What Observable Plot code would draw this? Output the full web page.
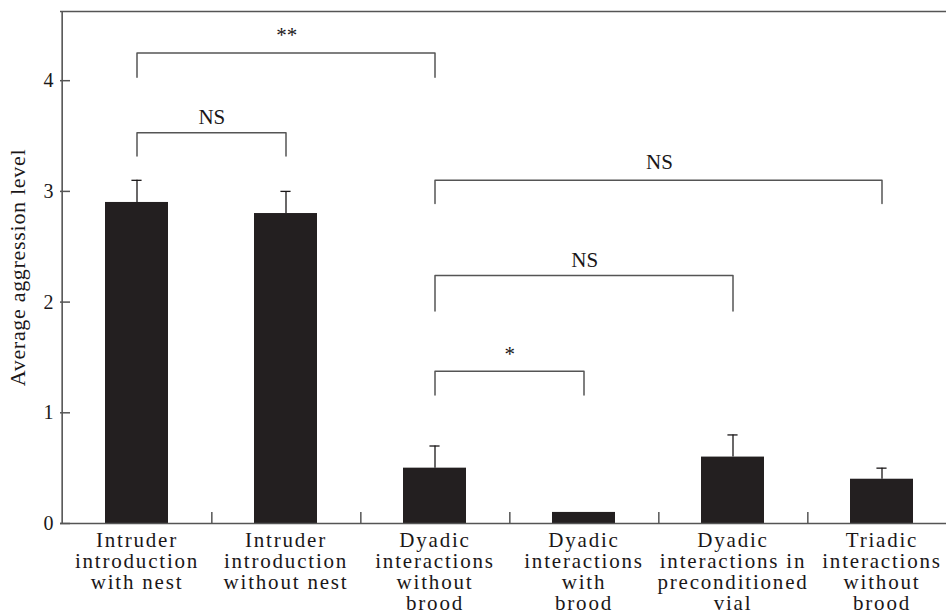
<!DOCTYPE html>
<html>
<head>
<meta charset="utf-8">
<script src="https://cdn.jsdelivr.net/npm/d3@7"></script>
<script src="https://cdn.jsdelivr.net/npm/@observablehq/plot@0.6"></script>
<style>
  body { margin: 0; background: #fff; }
  #chart svg { display: block; }
</style>
</head>
<body>
<div id="chart"></div>
<script>
// ---- data ----
const categories = [
  "Intruder\nintroduction\nwith nest",
  "Intruder\nintroduction\nwithout nest",
  "Dyadic\ninteractions\nwithout\nbrood",
  "Dyadic\ninteractions\nwith\nbrood",
  "Dyadic\ninteractions in\npreconditioned\nvial",
  "Triadic\ninteractions\nwithout\nbrood"
];
const means  = [2.9, 2.8, 0.5, 0.1, 0.6, 0.4];
const errors = [0.2, 0.2, 0.2, 0.0, 0.2, 0.1];
const yTicks = [0, 1, 2, 3, 4];
const yMax = 4.625;
const yLabel = "Average aggression level";

// significance brackets (category indices, heights in data units)
const bracketFrom   = [0, 0, 2, 2, 2];
const bracketTo     = [2, 1, 5, 4, 3];
const bracketTop    = [4.25, 3.53, 3.10, 2.24, 1.376];
const bracketLeg    = [4.03, 3.32, 2.89, 1.92, 1.16];
const bracketLabel  = ["**", "NS", "NS", "NS", "*"];
const bracketLabelY = [4.35, 3.61, 3.20, 2.32, 1.47];

// ---- build ----
const W = 946, H = 613;
const mL = 60, mR = 0, mT = 11, mB = 90;
const xRange = [60, 958];
const padIn = 0.58, padOut = 0.29;
const step = (xRange[1] - xRange[0]) / (categories.length - padIn + 2 * padOut);
const bw = step * (1 - padIn);
const capW = 10;

const bars = categories.map((c, i) => ({cat: c, value: means[i], err: errors[i]}));
const errBars = bars.filter(d => d.err > 0);

const bracketPts = [];
bracketFrom.forEach((f, i) => {
  const a = categories[f], b = categories[bracketTo[i]];
  bracketPts.push({id: i, x: a, y: bracketLeg[i]});
  bracketPts.push({id: i, x: a, y: bracketTop[i]});
  bracketPts.push({id: i, x: b, y: bracketTop[i]});
  bracketPts.push({id: i, x: b, y: bracketLeg[i]});
});

const ink = "#1a1718";
const axisInk = "#555";

const bracketTexts = bracketFrom.map((f, i) =>
  Plot.text([i], {
    x: () => categories[f],
    y: () => bracketLabelY[i],
    text: () => bracketLabel[i],
    dx: (bracketTo[i] - f) * step / 2,
    fontSize: 21,
    lineAnchor: "bottom",
    fill: ink
  })
);

const chart = Plot.plot({
  width: W,
  height: H,
  marginLeft: mL,
  marginRight: mR,
  marginTop: mT,
  marginBottom: mB,
  style: {fontFamily: "'Liberation Serif', serif", fontSize: "20px", color: ink, background: "#fff"},
  x: {type: "band", domain: categories, range: xRange, paddingInner: padIn, paddingOuter: padOut, align: 0.5, label: null, axis: null},
  y: {domain: [0, yMax], label: null, axis: null},
  marks: [
    Plot.barY(bars, {x: "cat", y: "value", fill: "#231f20"}),
    Plot.ruleX(errBars, {x: "cat", y1: "value", y2: d => d.value + d.err, stroke: ink, strokeWidth: 1.3}),
    Plot.tickY(errBars, {x: "cat", y: d => d.value + d.err, stroke: ink, strokeWidth: 1.3,
      insetLeft: (bw - capW) / 2, insetRight: (bw - capW) / 2}),
    // frame lines
    Plot.ruleY([0], {stroke: axisInk, strokeWidth: 1.6}),
    Plot.ruleY([yMax], {stroke: axisInk, strokeWidth: 1.6}),
    Plot.ruleX([categories[0]], {x: d => d, dx: -step / 2, y1: 0, y2: yMax, stroke: axisInk, strokeWidth: 1.6}),
    // inward y ticks
    Plot.ruleY(yTicks, {stroke: axisInk, strokeWidth: 1.5, insetRight: W - mL - mR - 10}),
    // inward x separator ticks
    Plot.ruleX(categories.slice(0, categories.length - 1), {x: d => d, dx: step / 2, y1: 0, y2: 0,
      insetBottom: 11, stroke: axisInk, strokeWidth: 1.5}),
    // y tick labels
    Plot.text(yTicks, {y: d => d, text: d => String(d), frameAnchor: "left", dx: -7,
      textAnchor: "end", lineAnchor: "middle", fontSize: 20, fill: ink}),
    // x category labels
    Plot.text(categories, {x: d => d, text: d => d, frameAnchor: "bottom", dy: 9,
      lineAnchor: "top", lineHeight: 0.99, fontSize: 21, fill: ink}),
    // brackets
    Plot.line(bracketPts, {x: "x", y: "y", z: "id", stroke: axisInk, strokeWidth: 1.5}),
    ...bracketTexts,
    Plot.text([yLabel], {frameAnchor: "left", text: d => d, rotate: -90, dx: -43,
      fontSize: 22, textAnchor: "middle", lineAnchor: "middle", fill: ink})
  ]
});
// letter spacing (style only)
chart.querySelectorAll("text").forEach(t => {
  if (t.querySelector("tspan")) {
    t.setAttribute("letter-spacing", "1.8");
    t.style.letterSpacing = "1.8px";
  } else if (t.textContent === yLabel) {
    t.setAttribute("letter-spacing", "0.7");
    t.style.letterSpacing = "0.7px";
  }
});
document.getElementById("chart").appendChild(chart);
</script>
</body>
</html>
